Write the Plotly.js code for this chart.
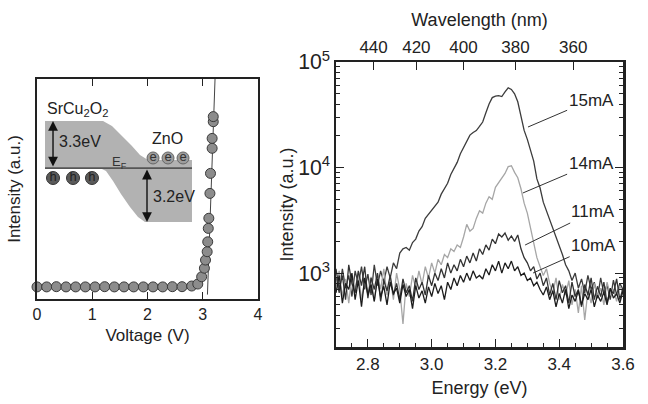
<!DOCTYPE html>
<html>
<head>
<meta charset="utf-8">
<script src="https://cdn.plot.ly/plotly-3.0.1.min.js"></script>
<style>html,body{margin:0;padding:0;background:#fff;}#chart{width:648px;height:404px;}</style>
</head>
<body>
<div id="chart"></div>
<script>
// ---------- Left panel: I-V data ----------
var ivVoltage = [0,0.175,0.35,0.525,0.7,0.875,1.05,1.225,1.4,1.575,1.75,1.925,2.1,2.275,2.45,2.625,2.8,
                 2.91,2.98,3.03,3.05,3.08,3.09,3.10,3.11,3.13,3.14,3.17,3.17,3.19,3.19];
var ivIntensity = [0.055,0.055,0.056,0.055,0.055,0.055,0.055,0.056,0.055,0.055,0.055,0.055,0.055,0.055,0.056,0.056,0.059,
                   0.068,0.101,0.140,0.177,0.215,0.260,0.321,0.367,0.480,0.571,0.685,0.730,0.806,0.829];
var fitVoltage = [3.085, 3.235];
var fitIntensity = [0.02, 1.09];

// inset band diagram outline (voltage / intensity units of left panel)
var bandV = [0.145,1.195,1.357,1.538,1.719,1.864,2.009,2.805,2.805,1.955,1.828,1.683,1.520,1.376,1.249,1.140,0.145];
var bandI = [0.809,0.809,0.786,0.741,0.695,0.655,0.632,0.632,0.350,0.350,0.373,0.418,0.477,0.536,0.582,0.595,0.595];
var efV = [0.145, 2.805];
var efI = [0.595, 0.595];
var elecV = [2.10, 2.371, 2.643];
var elecI = [0.641, 0.641, 0.641];
var holeV = [0.29, 0.652, 0.995];
var holeI = [0.55, 0.55, 0.55];

// ---------- Right panel: EL spectra ----------
var energy = [2.70,2.71,2.72,2.73,2.74,2.75,2.76,2.77,2.78,2.79,2.80,2.81,2.82,2.83,2.84,2.85,2.86,2.87,2.88,2.89,
2.90,2.91,2.92,2.93,2.94,2.95,2.96,2.97,2.98,2.99,3.00,3.01,3.02,3.03,3.04,3.05,3.06,3.07,3.08,3.09,
3.10,3.11,3.12,3.13,3.14,3.15,3.16,3.17,3.18,3.19,3.20,3.21,3.22,3.23,3.24,3.25,3.26,3.27,3.28,3.29,
3.30,3.31,3.32,3.33,3.34,3.35,3.36,3.37,3.38,3.39,3.40,3.41,3.42,3.43,3.44,3.45,3.46,3.47,3.48,3.49,
3.50,3.51,3.52,3.53,3.54,3.55,3.56,3.57,3.58,3.59,3.60];
var i15mA = [900,650,1100,720,950,600,1050,780,1150,700,980,620,1200,760,1050,820,1150,900,1250,1100,
1550,1700,1750,1650,1950,2100,2500,2750,3300,3600,3900,4200,4700,5600,6400,7100,8600,9800,11200,13500,
15500,18000,20300,21500,22400,24500,27000,33000,40000,46000,47500,48000,47000,52000,57000,55000,50000,42000,30000,22500,
18500,14500,11500,7800,6400,4700,3900,3100,2600,2200,1850,1500,1200,1050,850,1000,720,880,650,950,
700,820,580,900,640,780,560,860,620,800,700];
var i14mA = [750,1050,600,880,520,950,700,1000,560,850,640,920,540,980,700,1100,620,900,560,1000,
700,330,800,600,950,720,1050,780,1150,900,1250,1000,1350,1200,1500,1400,1700,1600,1850,1750,
2200,2900,2500,2650,3300,3900,3700,4600,5300,5000,6500,7200,8000,8800,10200,10400,9000,8000,6300,4600,
3700,2700,2000,1400,1150,950,1100,800,650,900,560,780,620,850,500,700,420,760,360,680,
520,800,600,720,500,820,620,700,540,760,650];
var i11mA = [1100,700,950,560,1200,800,650,1050,760,1150,580,900,700,1000,540,850,680,950,620,800,
560,880,650,760,540,900,700,820,620,950,760,1000,850,1100,900,1250,1000,1200,1050,1350,
1150,1450,1250,1550,1300,1700,1500,1850,1650,2100,1900,2350,2200,2400,2050,2250,2000,2300,1700,1400,
1250,1050,1150,880,1000,760,900,620,800,560,850,650,760,520,820,600,700,480,780,620,
900,560,750,600,820,520,700,640,880,560,720];
var i10mA = [650,950,520,800,700,1000,560,850,480,900,620,780,540,880,600,750,500,820,640,720,
520,780,600,700,460,760,580,680,520,740,600,800,640,760,560,820,700,900,760,950,
820,1000,850,1050,900,950,880,1100,960,1200,1050,1300,1000,1250,1100,1300,1050,1150,950,1000,
850,900,760,820,700,620,740,560,680,480,640,520,700,460,620,540,680,500,640,560,
700,480,620,540,660,500,720,580,640,520,680];
var wavelengthTicks = [440, 420, 400, 380, 360];
var wavelengthTickE = wavelengthTicks.map(function(w){ return 1239.84 / w; });

var FONT = 'Liberation Sans, Arial, Helvetica, sans-serif';
var W = 648, H = 404;
function px(x){ return x / W; }
function py(y){ return 1 - y / H; }

var traces = [
  // inset band
  {x: bandV, y: bandI, xaxis:'x', yaxis:'y', mode:'lines', fill:'toself',
   fillcolor:'#b2b2b2', line:{width:0, color:'rgba(0,0,0,0)'}, hoverinfo:'skip'},
  {x: efV, y: efI, xaxis:'x', yaxis:'y', mode:'lines', line:{color:'#555', width:1.6}, hoverinfo:'skip'},
  {x: elecV, y: elecI, xaxis:'x', yaxis:'y', mode:'markers+text', text:['e','e','e'],
   textposition:'middle center', textfont:{family:FONT, size:13, color:'#333'},
   marker:{size:12, color:'#9c9c9c', line:{color:'#666', width:1}}, hoverinfo:'skip'},
  {x: holeV, y: holeI, xaxis:'x', yaxis:'y', mode:'markers+text', text:['h','h','h'],
   textposition:'middle center', textfont:{family:FONT, size:13, color:'#222'},
   marker:{size:13, color:'#5a5a5a', line:{color:'#333', width:1}}, hoverinfo:'skip'},
  // I-V
  {x: fitVoltage, y: fitIntensity, xaxis:'x', yaxis:'y', mode:'lines', line:{color:'#444', width:1}},
  {x: ivVoltage, y: ivIntensity, xaxis:'x', yaxis:'y', mode:'markers', cliponaxis:false,
   marker:{size:10, color:'#8c8c8c', line:{color:'#3a3a3a', width:1}}},
  // spectra
  {x: energy, y: i15mA, xaxis:'x2', yaxis:'y2', mode:'lines', line:{color:'#3c3c3c', width:1.3}, name:'15mA'},
  {x: energy, y: i14mA, xaxis:'x2', yaxis:'y2', mode:'lines', line:{color:'#a6a6a6', width:1.3}, name:'14mA'},
  {x: energy, y: i11mA, xaxis:'x2', yaxis:'y2', mode:'lines', line:{color:'#333333', width:1.3}, name:'11mA'},
  {x: energy, y: i10mA, xaxis:'x2', yaxis:'y2', mode:'lines', line:{color:'#1c1c1c', width:1.3}, name:'10mA'},
  {x: [], y: [], xaxis:'x3', yaxis:'y2', mode:'lines', hoverinfo:'skip'}
];

var axFont = {family:FONT, size:16, color:'#222'};
var rFont = {family:FONT, size:17, color:'#222'};
var layout = {
  width: W, height: H,
  margin: {l:0, r:0, t:0, b:0},
  paper_bgcolor:'#fff', plot_bgcolor:'rgba(0,0,0,0)',
  showlegend:false,
  font:{family:FONT, color:'#222'},
  xaxis: {domain:[px(37), px(258)], anchor:'y', range:[0,4], dtick:1, tick0:0,
          ticks:'inside', ticklen:7, tickwidth:1, tickcolor:'#222',
          showline:true, linewidth:2, linecolor:'#222', mirror:'ticks',
          showgrid:false, zeroline:false, tickfont:axFont,
          title:{text:'Voltage (V)', font:{family:FONT, size:17, color:'#222'}, standoff:7}},
  yaxis: {domain:[py(299), py(79)], anchor:'x', range:[0,1],
          ticks:'', showticklabels:false, showline:true, linewidth:2, linecolor:'#222', mirror:true,
          showgrid:false, zeroline:false,
          title:{text:'Intensity (a.u.)', font:{family:FONT, size:17, color:'#222'}, standoff:10}},
  xaxis2: {domain:[px(336), px(623)], anchor:'y2', range:[2.7,3.6], tick0:2.8, dtick:0.2, tickformat:'.1f',
           ticks:'inside', ticklen:8, tickwidth:1, tickcolor:'#222',
           minor:{ticks:'inside', dtick:0.05, tick0:2.8, ticklen:4, tickcolor:'#222', showgrid:false},
           showline:true, linewidth:2.5, linecolor:'#222', showgrid:false, zeroline:false, tickfont:rFont,
           title:{text:'Energy (eV)', font:{family:FONT, size:18, color:'#222'}, standoff:9}},
  xaxis3: {overlaying:'x2', anchor:'y2', side:'top', range:[2.7,3.6],
           tickmode:'array', tickvals:wavelengthTickE, ticktext:wavelengthTicks.map(String),
           ticks:'inside', ticklen:8, tickwidth:1, tickcolor:'#222',
           showline:true, linewidth:2.5, linecolor:'#222', showgrid:false, zeroline:false,
           tickfont:rFont,
           title:{text:'Wavelength (nm)', font:{family:FONT, size:18, color:'#222'}, standoff:7}},
  yaxis2: {domain:[py(347), py(62)], anchor:'x2', type:'log', range:[2.3,5], dtick:1,
           exponentformat:'power', ticks:'inside', ticklen:8, tickwidth:1, tickcolor:'#222',
           minor:{ticks:'inside', dtick:'D1', ticklen:4, tickcolor:'#222', showgrid:false},
           showline:true, linewidth:2.5, linecolor:'#222', mirror:'ticks',
           showgrid:false, zeroline:false, tickfont:rFont,
           title:{text:'Intensity (a.u.)', font:{family:FONT, size:18, color:'#222'}, standoff:0}},
  annotations: [
    {xref:'x', yref:'y', x:3.35, y:1.045, text:'V<sub>th</sub> ≈ 3V', showarrow:false,
     font:{family:FONT, size:17, color:'#222'}},
    {xref:'x', yref:'y', x:0.145, y:0.862, xanchor:'left', text:'SrCu<sub>2</sub>O<sub>2</sub>', showarrow:false,
     font:{family:FONT, size:16, color:'#222'}},
    {xref:'x', yref:'y', x:2.36, y:0.728, text:'ZnO', showarrow:false, font:{family:FONT, size:16, color:'#222'}},
    {xref:'x', yref:'y', x:1.50, y:0.620, text:'E<sub>F</sub>', showarrow:false, font:{family:FONT, size:13, color:'#333'}},
    {xref:'x', yref:'y', x:0.36, y:0.718, xanchor:'left', text:'3.3eV', showarrow:false, font:{family:FONT, size:16, color:'#222'}},
    {xref:'x', yref:'y', x:2.063, y:0.468, xanchor:'left', text:'3.2eV', showarrow:false, font:{family:FONT, size:16, color:'#222'}},
    {xref:'x', yref:'y', x:0.29, y:0.809, axref:'x', ayref:'y', ax:0.29, ay:0.595, text:'', showarrow:true,
     arrowside:'end+start', arrowhead:2, arrowsize:1.4, arrowwidth:1.4, arrowcolor:'#111', standoff:0, startstandoff:0},
    {xref:'x', yref:'y', x:1.991, y:0.350, axref:'x', ayref:'y', ax:1.991, ay:0.595, text:'', showarrow:true,
     arrowside:'end+start', arrowhead:2, arrowsize:1.4, arrowwidth:1.4, arrowcolor:'#111', standoff:0, startstandoff:0},
    // spectra labels
    {xref:'x2', yref:'y2', x:3.302, y:4.384, axref:'x2', ayref:'y2', ax:3.50, ay:4.64, text:'15mA',
     showarrow:true, arrowhead:0, arrowwidth:1, arrowcolor:'#333', font:{family:FONT, size:17, color:'#222'}},
    {xref:'x2', yref:'y2', x:3.286, y:3.759, axref:'x2', ayref:'y2', ax:3.50, ay:4.034, text:'14mA',
     showarrow:true, arrowhead:0, arrowwidth:1, arrowcolor:'#333', font:{family:FONT, size:17, color:'#222'}},
    {xref:'x2', yref:'y2', x:3.293, y:3.266, axref:'x2', ayref:'y2', ax:3.505, ay:3.579, text:'11mA',
     showarrow:true, arrowhead:0, arrowwidth:1, arrowcolor:'#333', font:{family:FONT, size:17, color:'#222'}},
    {xref:'x2', yref:'y2', x:3.318, y:3.001, axref:'x2', ayref:'y2', ax:3.508, ay:3.257, text:'10mA',
     showarrow:true, arrowhead:0, arrowwidth:1, arrowcolor:'#333', font:{family:FONT, size:17, color:'#222'}}
  ]
};

Plotly.newPlot('chart', traces, layout, {displayModeBar:false, staticPlot:true});
</script>
</body>
</html>
